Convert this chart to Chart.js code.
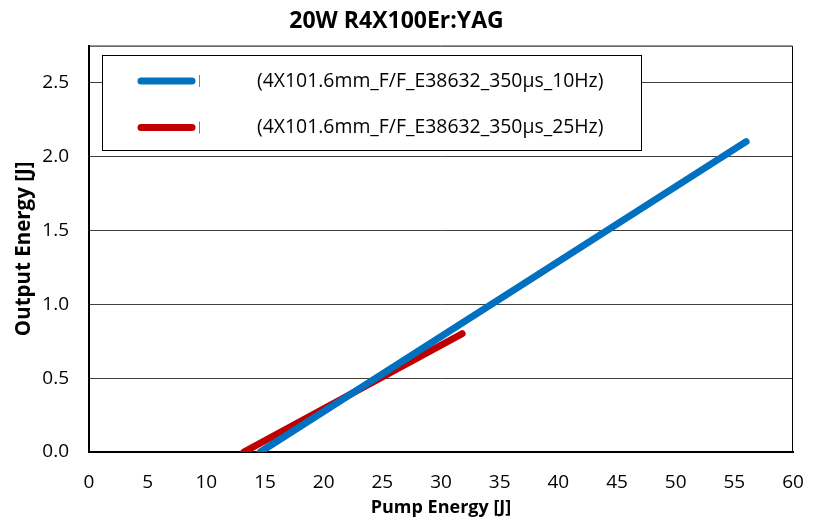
<!DOCTYPE html>
<html>
<head>
<meta charset="utf-8">
<script src="https://cdn.jsdelivr.net/npm/chart.js@4.4.1/dist/chart.umd.min.js"></script>
<style>
  html, body { margin: 0; padding: 0; background: #fff; }
  #wrap { width: 819px; height: 520px; }
</style>
</head>
<body>
<div id="wrap"><canvas id="chart"></canvas></div>
<script>
// data
var seriesNames = ["(4X101.6mm_F/F_E38632_350\u00b5s_10Hz)", "(4X101.6mm_F/F_E38632_350\u00b5s_25Hz)"];
var pump10Hz = [14.6, 56.0];
var out10Hz = [0.0, 2.1];
var pump25Hz = [13.2, 31.8];
var out25Hz = [0.0, 0.80];
var xTicks = [0, 5, 10, 15, 20, 25, 30, 35, 40, 45, 50, 55, 60];
var yTicks = [0.0, 0.5, 1.0, 1.5, 2.0, 2.5];

var FONT = "'Open Sans', 'Noto Sans', sans-serif";

function toPoints(xs, ys) {
    return xs.map(function(x, i) { return { x: x, y: ys[i] }; });
}

// frame round the plot + boxed legend like the excel original
var framePlugin = {
    id: 'frame',
    afterDraw: function(chart) {
        var ctx = chart.ctx;
        var a = chart.chartArea;
        ctx.save();
        ctx.strokeStyle = '#000';
        ctx.lineWidth = 1;
        ctx.beginPath();
        ctx.moveTo(a.left, a.top + 0.5);
        ctx.lineTo(a.right - 0.5, a.top + 0.5);
        ctx.lineTo(a.right - 0.5, a.bottom);
        ctx.stroke();

        // legend box
        var bx = 102.5, by = 55.5, bw = 539, bh = 95;
        ctx.fillStyle = '#fff';
        ctx.fillRect(bx, by, bw, bh);
        ctx.strokeRect(bx, by, bw, bh);

        var rows = [81, 127.5];
        chart.data.datasets.forEach(function(ds, i) {
            var y = rows[i];
            ctx.strokeStyle = ds.borderColor;
            ctx.lineWidth = 7;
            ctx.lineCap = 'round';
            ctx.beginPath();
            ctx.moveTo(141, y);
            ctx.lineTo(192, y);
            ctx.stroke();
            ctx.strokeStyle = '#808080';
            ctx.lineWidth = 1;
            ctx.lineCap = 'butt';
            ctx.beginPath();
            ctx.moveTo(199.5, y - 6);
            ctx.lineTo(199.5, y + 6);
            ctx.stroke();
            ctx.fillStyle = '#000';
            ctx.font = '19.4px ' + FONT;
            ctx.textBaseline = 'middle';
            ctx.textAlign = 'left';
            ctx.fillText(ds.label, 257, y);
        });
        ctx.restore();
    }
};

new Chart(document.getElementById("chart"), {
    type: 'scatter',
    data: {
        datasets: [{
            label: seriesNames[0],
            data: toPoints(pump10Hz, out10Hz),
            borderColor: "#0070C0",
            backgroundColor: "#0070C0",
            showLine: true,
            borderWidth: 7,
            borderCapStyle: 'round',
            pointRadius: 0
        }, {
            label: seriesNames[1],
            data: toPoints(pump25Hz, out25Hz),
            borderColor: "#C00000",
            backgroundColor: "#C00000",
            showLine: true,
            borderWidth: 7,
            borderCapStyle: 'round',
            pointRadius: 0
        }]
    },
    options: {
        responsive: true,
        maintainAspectRatio: false,
        animation: false,
        layout: { padding: { top: 0, right: 26, bottom: 0, left: 0 } },
        plugins: {
            legend: { display: false },
            tooltip: { enabled: false },
            title: {
                display: true,
                text: '20W R4X100Er:YAG',
                color: '#000',
                font: { family: FONT, size: 23, weight: 'bold', lineHeight: 1.2 },
                padding: { top: 8, bottom: 10 }
            }
        },
        scales: {
            x: {
                type: 'linear',
                min: 0,
                max: 60,
                afterBuildTicks: function(axis) {
                    axis.ticks = xTicks.map(function(v) { return { value: v }; });
                },
                afterFit: function(axis) {
                    axis.height = 68;
                    // tick padding would otherwise push the plot in from the right
                    axis.paddingRight = 0;
                    axis.paddingLeft = 0;
                },
                grid: { display: false, drawTicks: false },
                border: { display: true, color: '#000', width: 2 },
                ticks: {
                    color: '#000',
                    padding: 19,
                    maxRotation: 0,
                    font: { family: FONT, size: 19 }
                },
                title: {
                    display: true,
                    text: 'Pump Energy [J]',
                    color: '#000',
                    font: { family: FONT, size: 18, weight: 'bold', lineHeight: 1.2 },
                    padding: { top: 0, bottom: 1 }
                }
            },
            y: {
                type: 'linear',
                min: 0,
                max: 2.75,
                afterBuildTicks: function(axis) {
                    axis.ticks = yTicks.map(function(v) { return { value: v }; });
                },
                afterFit: function(axis) { axis.width = 89; },
                grid: { color: '#404040', lineWidth: 1, drawTicks: false },
                border: { display: true, color: '#000', width: 2 },
                ticks: {
                    color: '#000',
                    padding: 20,
                    font: { family: FONT, size: 19 },
                    callback: function(v) { return v.toFixed(1); }
                },
                title: {
                    display: true,
                    text: 'Output Energy [J]',
                    color: '#000',
                    font: { family: FONT, size: 20.5, weight: 'bold', lineHeight: 1.2 },
                    padding: { top: 12, bottom: 0 }
                }
            }
        }
    },
    plugins: [framePlugin]
});
</script>
</body>
</html>
